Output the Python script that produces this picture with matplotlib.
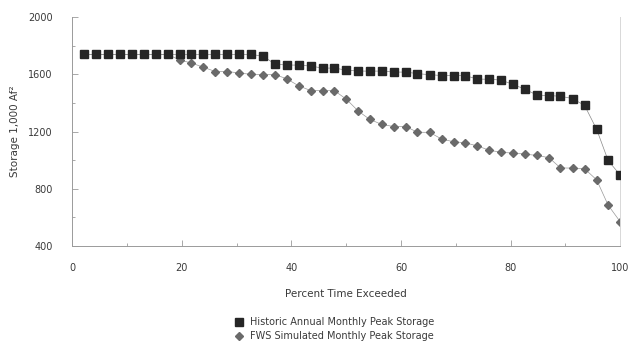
import matplotlib
matplotlib.use("Agg")
import matplotlib.pyplot as plt
from matplotlib.ticker import MultipleLocator

# percent of time exceeded (plotting positions)
pct_exceeded = [2.2, 4.3, 6.5, 8.7, 10.9, 13.0, 15.2, 17.4, 19.6, 21.7,
                23.9, 26.1, 28.3, 30.4, 32.6, 34.8, 37.0, 39.1, 41.3, 43.5,
                45.7, 47.8, 50.0, 52.2, 54.3, 56.5, 58.7, 60.9, 63.0, 65.2,
                67.4, 69.6, 71.7, 73.9, 76.1, 78.3, 80.4, 82.6, 84.8, 87.0,
                89.1, 91.3, 93.5, 95.7, 97.8, 100.0]

# storage, 1,000 AF
historic_peak = [1740, 1740, 1740, 1740, 1740, 1740, 1740, 1740, 1740, 1740,
                 1740, 1740, 1740, 1740, 1740, 1727, 1672, 1665, 1665, 1658,
                 1644, 1644, 1630, 1623, 1623, 1623, 1616, 1616, 1605, 1598,
                 1592, 1592, 1592, 1567, 1566, 1560, 1530, 1497, 1455, 1452,
                 1447, 1431, 1383, 1216, 998, 896]

fws_simulated_peak = [1740, 1740, 1740, 1740, 1740, 1740, 1740, 1740, 1700, 1680,
                      1650, 1620, 1620, 1610, 1600, 1598, 1598, 1570, 1520, 1487,
                      1487, 1487, 1427, 1343, 1285, 1250, 1235, 1235, 1195, 1195,
                      1148, 1129, 1122, 1100, 1070, 1055, 1050, 1043, 1033, 1018,
                      946, 945, 940, 863, 686, 570]

TXT = "#3a3a3a"
SPINE = "#9a9a9a"

fig = plt.figure(figsize=(6.29, 3.5), dpi=100)
ax = fig.add_axes([0.115, 0.297, 0.871, 0.654])

ax.plot(pct_exceeded, historic_peak, color="#888888", lw=0.5,
        marker="s", markersize=6.3, markerfacecolor="#262626",
        markeredgecolor="#262626", label="Historic Annual Monthly Peak Storage",
        zorder=3)
ax.plot(pct_exceeded, fws_simulated_peak, color="#999999", lw=0.5,
        marker="D", markersize=4.5, markerfacecolor="#6a6a6a",
        markeredgecolor="#6a6a6a", label="FWS Simulated Monthly Peak Storage",
        zorder=2)

ax.set_xlim(0, 100)
ax.set_ylim(400, 2000)
ax.xaxis.set_major_locator(MultipleLocator(20))
ax.xaxis.set_minor_locator(MultipleLocator(10))
ax.yaxis.set_major_locator(MultipleLocator(400))
ax.yaxis.set_minor_locator(MultipleLocator(200))

ax.tick_params(which="both", direction="in", colors=SPINE, labelcolor=TXT,
               labelsize=7, width=0.6)
ax.tick_params(which="major", length=4)
ax.tick_params(which="minor", length=2.5)
ax.tick_params(axis="x", pad=12)
ax.tick_params(axis="y", pad=14)

for side in ("left", "bottom", "right"):
    ax.spines[side].set_color(SPINE)
    ax.spines[side].set_linewidth(0.7)
ax.spines["right"].set_color("#d8d8d8")
ax.spines["top"].set_visible(False)

ax.set_xlabel("Percent Time Exceeded", fontsize=7.5, color=TXT, labelpad=12)
ax.set_ylabel("Storage 1,000 Af²", fontsize=7.5, color=TXT, labelpad=6)

leg = fig.legend(loc="center", bbox_to_anchor=(0.532, 0.06), ncol=1,
                 frameon=False, fontsize=7, labelcolor=TXT,
                 handlelength=0.8, handletextpad=0.8, labelspacing=0.4,
                 markerscale=0.9)
for h in leg.legend_handles:
    h.set_linestyle("none")

fig.savefig("out.png", dpi=100)
